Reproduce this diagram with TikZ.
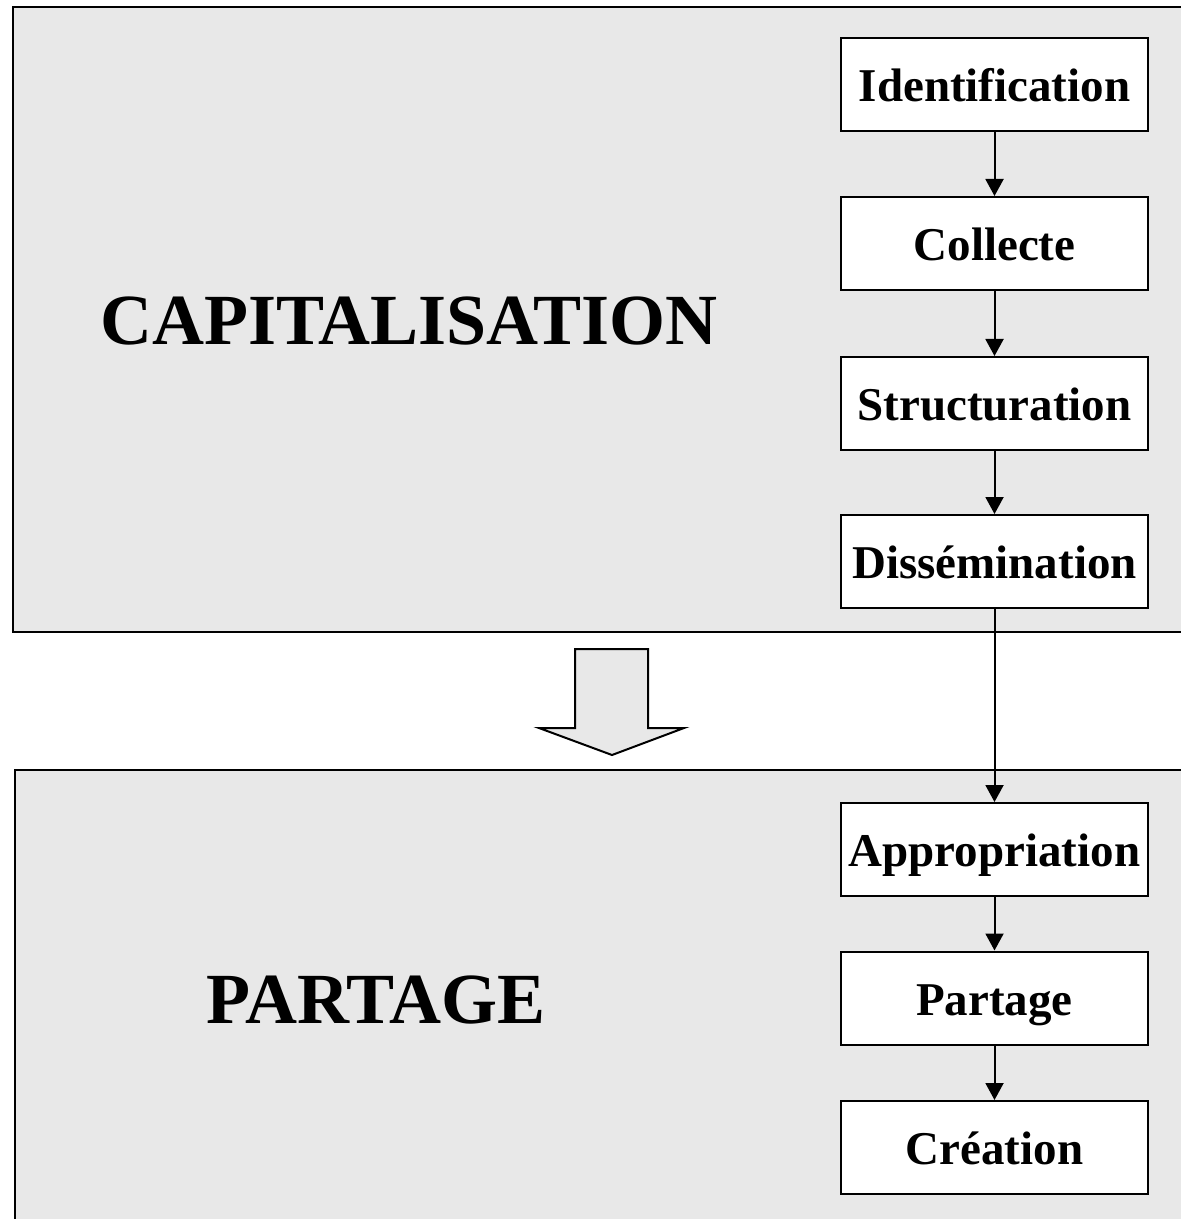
\documentclass[tikz,border=0pt]{standalone}
\usepackage{fontspec}
\setmainfont{Liberation Serif}
\usepackage{tikz}
\usetikzlibrary{arrows.meta}
\definecolor{panelgray}{RGB}{232,232,232}
\tikzset{
  etape/.style={draw, line width=1pt, fill=white, minimum width=153.5pt,
    minimum height=46.5pt, inner sep=0pt, text height=17pt, text depth=0pt,
    font=\fontsize{23.5}{28}\selectfont\bfseries},
  fleche/.style={line width=1pt, -{Triangle[width=9pt,length=8.5pt]}},
  phase/.style={font=\fontsize{36}{44}\selectfont\bfseries}
}
\newcommand{\etapes}[1]{%
    \foreach \x/\y in {#1} {\draw[fleche] (\x)--(\y);}
}

\begin{document}
\begin{tikzpicture}[x=0.5pt,y=-0.5pt]
          \useasboundingbox (0,0) rectangle (1180,1219);
          % panneaux
          \draw[line width=1.4pt, fill=panelgray] (13,7) rectangle (1200,632);
          \draw[line width=1.4pt, fill=panelgray] (15,770) rectangle (1200,1240);
          \draw[line width=1pt, fill=panelgray] (575,649) -- (648,649) -- (648,728)
            -- (684,728) -- (612,755) -- (539,728) -- (575,728) -- cycle;

          \node[phase] (capi) at (409,321) {CAPITALISATION};
          \node[phase] (parta) at (376,1000) {PARTAGE};

          \node[etape] (ident) at (994.5,84.5) {Identification};
          \node[etape] (coll) at (994.5,243.5) {Collecte};
          \node[etape] (struct) at (994.5,403.5) {Structuration};
          \node[etape] (diss) at (994.5,561.5) {Dissémination};
          \node[etape] (appro) at (994.5,849.5) {Appropriation};
          \node[etape] (part) at (994.5,998) {Partage};
          \node[etape] (crea) at (994.5,1147.5) {Création};

          \etapes{ident/coll,coll/struct,struct/diss,diss/appro,appro/part,part/crea}
        \end{tikzpicture}
\end{document}
